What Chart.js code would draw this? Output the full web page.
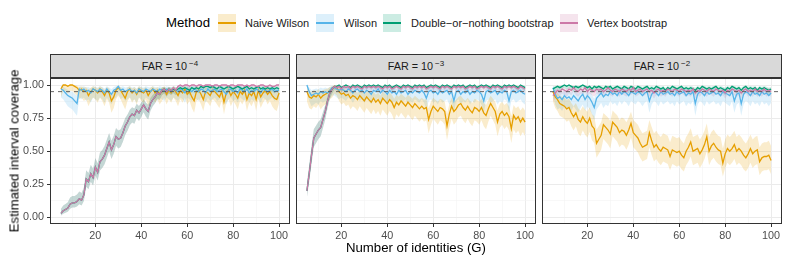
<!DOCTYPE html>
<html>
<head>
<meta charset="utf-8">
<script src="https://cdn.jsdelivr.net/npm/chart.js@4.4.1/dist/chart.umd.min.js"></script>
<style>
body { margin:0; background:#fff; width:789px; height:263px; position:relative; overflow:hidden; font-family:"Liberation Sans", Arial, sans-serif; }
.abs { position:absolute; white-space:nowrap; }
.strip { position:absolute; top:54px; height:24px; width:240px; box-sizing:border-box; border:1px solid #333; background:#d9d9d9; font-size:10.8px; color:#1a1a1a; text-align:center; line-height:23px; }
.strip sup { font-size:8px; vertical-align:0; position:relative; top:-4px; margin-left:2px; }
canvas { position:absolute; }
.key { position:absolute; top:14px; width:18px; height:18px; }
.key i { position:absolute; left:0; right:0; top:8.3px; height:1.4px; }
.lab { position:absolute; top:17px; font-size:11px; line-height:12px; color:#1a1a1a; white-space:nowrap; }
</style>
</head>
<body>

<div class="abs" style="left:166px;top:15px;font-size:13.2px;line-height:16px;">Method</div>
<div id="legend"></div>

<div class="strip" style="left:50px">FAR = 10<sup>−4</sup></div>
<div class="strip" style="left:296px">FAR = 10<sup>−3</sup></div>
<div class="strip" style="left:542px">FAR = 10<sup>−2</sup></div>

<canvas id="p1" width="294" height="176" style="left:0px;top:70px;width:294px;height:176px"></canvas>
<canvas id="p2" width="248" height="176" style="left:292px;top:70px;width:248px;height:176px"></canvas>
<canvas id="p3" width="248" height="176" style="left:538px;top:70px;width:248px;height:176px"></canvas>

<div class="abs" style="left:14px;top:151px;transform:translate(-50%,-50%) rotate(-90deg);font-size:13.2px;">Estimated interval coverage</div>
<div class="abs" style="left:416px;top:247px;transform:translate(-50%,-50%);font-size:13.2px;">Number of identities (G)</div>

<script>
// number of identities
const G = [5,6,7,8,9,10,11,12,13,14,15,16,17,18,19,20,21,22,23,24,25,26,27,28,29,30,31,32,33,34,
  35,36,37,38,39,40,41,42,43,44,45,46,47,48,49,50,51,52,53,54,55,56,57,58,59,60,61,62,63,64,
  65,66,67,68,69,70,71,72,73,74,75,76,77,78,79,80,81,82,83,84,85,86,87,88,89,90,91,92,93,94,
  95,96,97,98,99,100];

const methods = ['Naive Wilson', 'Wilson', 'Double−or−nothing bootstrap', 'Vertex bootstrap'];
const colors = ['#E69F00', '#56B4E9', '#009E73', '#CC79A7'];
const runs = [80, 80, 200, 200]; // simulation runs behind each coverage estimate
const target = 0.95;

// FAR = 1e-4
const naive1 = [0.97,1.00,1.00,0.99,1.00,1.00,0.99,0.98,0.96,0.97,
  0.95,0.96,0.92,0.95,0.97,0.96,0.94,0.97,0.95,0.92,
  0.96,0.94,0.88,0.91,0.96,0.98,0.96,0.93,0.90,0.95,
  0.97,0.94,0.96,0.93,0.97,0.95,0.94,0.96,0.92,0.95,
  0.97,0.94,0.96,0.93,0.95,0.97,0.93,0.96,0.94,0.97,
  0.95,0.92,0.96,0.94,0.97,0.93,0.95,0.91,0.88,0.95,
  0.96,0.93,0.89,0.95,0.94,0.92,0.96,0.95,0.93,0.91,
  0.95,0.87,0.94,0.96,0.92,0.95,0.93,0.90,0.95,0.93,
  0.96,0.89,0.94,0.92,0.95,0.89,0.96,0.91,0.94,0.96,
  0.93,0.95,0.92,0.90,0.89,0.94];
const wilson1 = [0.97,0.96,0.94,0.92,0.91,0.90,0.88,0.86,0.97,0.96,
  0.97,0.95,0.96,0.94,0.97,0.96,0.95,0.97,0.96,0.94,
  0.97,0.95,0.93,0.96,0.97,0.99,0.96,0.97,0.95,0.96,
  0.97,0.95,0.96,0.94,0.97,0.96,0.95,0.97,0.96,0.95,
  0.97,0.96,0.95,0.97,0.96,0.95,0.97,0.96,0.95,0.97,
  0.96,0.95,0.97,0.96,0.94,0.97,0.96,0.95,0.97,0.96,
  0.95,0.97,0.96,0.94,0.97,0.95,0.96,0.97,0.95,0.96,
  0.97,0.95,0.93,0.96,0.97,0.95,0.96,0.94,0.97,0.96,
  0.95,0.97,0.94,0.96,0.95,0.97,0.96,0.94,0.97,0.96,
  0.95,0.96,0.97,0.95,0.96,0.96];
const double1 = [0.03,0.05,0.06,0.07,0.10,0.11,0.11,0.12,0.14,0.13,
  0.17,0.29,0.27,0.33,0.30,0.38,0.34,0.42,0.44,0.47,
  0.52,0.57,0.51,0.55,0.61,0.59,0.60,0.64,0.69,0.72,
  0.76,0.78,0.77,0.81,0.79,0.82,0.85,0.82,0.80,0.86,
  0.89,0.91,0.94,0.93,0.96,0.97,0.95,0.97,0.96,0.97,
  0.96,0.97,0.98,0.97,0.98,0.97,0.96,0.98,0.97,0.98,
  0.97,0.99,0.98,0.99,0.99,0.98,0.99,0.98,0.97,0.99,
  0.98,0.97,0.98,0.99,0.98,0.97,0.98,0.99,0.98,0.97,
  0.98,0.99,0.97,0.98,0.97,0.98,0.99,0.97,0.98,0.97,
  0.98,0.97,0.98,0.97,0.98,0.97];
const vertex1 = [0.03,0.05,0.06,0.07,0.10,0.11,0.11,0.12,0.14,0.13,
  0.17,0.29,0.27,0.33,0.30,0.38,0.34,0.42,0.44,0.47,
  0.52,0.57,0.51,0.55,0.61,0.59,0.60,0.64,0.69,0.72,
  0.76,0.78,0.77,0.81,0.79,0.82,0.85,0.82,0.80,0.86,
  0.89,0.91,0.94,0.93,0.96,0.97,0.95,0.97,0.96,0.98,
  0.96,0.99,1.00,0.99,1.00,1.00,0.99,1.00,1.00,0.99,
  1.00,1.00,0.99,1.00,1.00,1.00,0.99,1.00,1.00,0.99,
  1.00,1.00,1.00,0.99,1.00,1.00,0.99,1.00,1.00,1.00,
  0.99,1.00,0.99,1.00,1.00,0.99,0.99,1.00,1.00,0.99,
  0.99,1.00,0.99,0.99,1.00,1.00];

// FAR = 1e-3
const naive2 = [0.95,0.91,0.90,0.92,0.91,0.93,0.90,0.92,0.93,0.94,
  0.96,0.97,0.99,0.98,0.95,0.93,0.94,0.92,0.93,0.90,
  0.92,0.91,0.89,0.92,0.90,0.88,0.91,0.89,0.87,0.90,
  0.87,0.89,0.86,0.90,0.88,0.86,0.89,0.87,0.83,0.87,
  0.85,0.88,0.86,0.84,0.87,0.85,0.83,0.86,0.84,0.82,
  0.84,0.82,0.83,0.74,0.80,0.84,0.82,0.80,0.83,0.82,
  0.80,0.69,0.78,0.84,0.80,0.82,0.85,0.86,0.83,0.81,
  0.84,0.81,0.79,0.83,0.82,0.80,0.83,0.79,0.77,0.82,
  0.86,0.83,0.80,0.72,0.78,0.80,0.77,0.79,0.76,0.67,
  0.77,0.74,0.76,0.72,0.75,0.72];
const wilson2 = [1.00,0.95,0.92,0.93,0.94,0.93,0.95,0.94,0.95,0.94,
  0.96,0.98,0.98,0.97,0.96,0.97,0.96,0.95,0.97,0.96,
  0.94,0.96,0.97,0.95,0.96,0.94,0.96,0.95,0.93,0.96,
  0.95,0.97,0.94,0.96,0.95,0.93,0.96,0.94,0.95,0.93,
  0.96,0.94,0.95,0.96,0.93,0.95,0.94,0.96,0.95,0.94,
  0.96,0.94,0.90,0.95,0.96,0.94,0.95,0.93,0.96,0.94,
  0.95,0.96,0.93,0.95,0.88,0.95,0.96,0.93,0.95,0.94,
  0.96,0.93,0.95,0.94,0.96,0.95,0.93,0.88,0.95,0.96,
  0.94,0.95,0.96,0.93,0.95,0.94,0.96,0.95,0.88,0.95,
  0.96,0.94,0.95,0.96,0.94,0.93];
const double2 = [0.20,0.33,0.47,0.60,0.63,0.66,0.68,0.74,0.80,0.88,
  0.94,0.97,0.99,0.99,1.00,0.98,0.99,1.00,0.99,0.98,
  1.00,0.99,1.00,0.99,0.98,1.00,0.99,1.00,0.99,1.00,
  0.99,1.00,0.99,0.98,1.00,0.99,1.00,0.98,0.99,1.00,
  0.99,0.98,1.00,0.99,1.00,0.99,0.98,1.00,0.99,1.00,
  0.99,1.00,0.98,0.99,1.00,0.99,1.00,0.99,0.98,1.00,
  0.99,1.00,0.99,0.98,1.00,0.99,1.00,0.99,1.00,0.98,
  0.99,1.00,0.99,1.00,0.98,0.99,1.00,0.99,1.00,0.99,
  0.98,1.00,0.99,1.00,0.99,0.98,1.00,0.99,1.00,0.99,
  1.00,0.99,0.98,1.00,0.99,0.98];
const vertex2 = [0.20,0.33,0.47,0.60,0.63,0.66,0.68,0.74,0.80,0.88,
  0.94,0.97,0.99,0.98,0.99,0.97,0.99,0.98,0.99,0.97,
  0.99,0.98,0.99,0.98,0.97,0.99,0.98,0.99,0.98,0.99,
  0.98,0.99,0.98,0.97,0.99,0.98,0.99,0.97,0.98,0.99,
  0.98,0.97,0.99,0.98,0.99,0.98,0.97,0.99,0.98,0.99,
  0.98,0.99,0.97,0.98,0.99,0.98,0.99,0.98,0.97,0.99,
  0.98,0.99,0.98,0.97,0.99,0.98,0.99,0.98,0.99,0.97,
  0.98,0.99,0.98,0.99,0.97,0.98,0.99,0.98,0.99,0.98,
  0.97,0.99,0.98,0.99,0.98,0.97,0.99,0.98,0.99,0.98,
  0.99,0.98,0.97,0.99,0.98,0.97];

// FAR = 1e-2
const naive3 = [0.95,0.91,0.89,0.86,0.85,0.84,0.82,0.83,0.79,0.76,
  0.79,0.74,0.72,0.76,0.73,0.71,0.75,0.69,0.67,0.56,
  0.59,0.62,0.70,0.68,0.66,0.63,0.72,0.70,0.68,0.64,
  0.66,0.65,0.62,0.66,0.71,0.64,0.62,0.60,0.56,0.53,
  0.54,0.55,0.64,0.58,0.53,0.55,0.52,0.50,0.53,0.52,
  0.51,0.46,0.51,0.50,0.49,0.50,0.47,0.45,0.50,0.53,
  0.57,0.50,0.51,0.52,0.48,0.51,0.55,0.61,0.50,0.54,
  0.56,0.53,0.51,0.50,0.41,0.48,0.52,0.50,0.52,0.55,
  0.50,0.52,0.50,0.47,0.45,0.48,0.52,0.48,0.50,0.51,
  0.42,0.45,0.46,0.46,0.47,0.43];
const wilson3 = [0.98,0.93,0.90,0.91,0.89,0.92,0.90,0.91,0.89,0.92,
  0.90,0.88,0.91,0.93,0.89,0.92,0.90,0.87,0.83,0.90,
  0.92,0.94,0.91,0.93,0.92,0.95,0.93,0.94,0.92,0.95,
  0.93,0.95,0.94,0.92,0.95,0.94,0.93,0.95,0.94,0.92,
  0.94,0.95,0.88,0.93,0.95,0.94,0.92,0.95,0.93,0.94,
  0.95,0.93,0.94,0.92,0.95,0.93,0.94,0.95,0.92,0.94,
  0.93,0.95,0.86,0.93,0.95,0.94,0.92,0.95,0.93,0.94,
  0.95,0.93,0.94,0.92,0.95,0.94,0.93,0.92,0.95,0.88,
  0.93,0.94,0.86,0.93,0.95,0.94,0.92,0.95,0.93,0.94,
  0.92,0.95,0.93,0.94,0.92,0.94];
const double3 = [0.97,0.98,0.99,0.98,0.99,1.00,0.99,1.00,0.99,0.98,
  0.99,0.98,0.99,1.00,0.99,0.98,0.99,0.97,0.99,0.98,
  0.99,0.98,0.97,0.99,0.98,0.99,0.97,0.98,0.99,0.98,
  0.97,0.99,0.98,0.97,0.99,0.98,0.97,0.99,0.98,0.97,
  0.98,0.99,0.97,0.98,0.97,0.99,0.98,0.97,0.98,0.96,
  0.98,0.97,0.99,0.98,0.97,0.98,0.99,0.97,0.98,0.97,
  0.98,0.97,0.96,0.98,0.97,0.99,0.98,0.97,0.98,0.97,
  0.98,0.99,0.97,0.98,0.97,0.96,0.98,0.97,0.99,0.98,
  0.97,0.98,0.96,0.98,0.99,0.97,0.98,0.97,0.98,0.96,
  0.98,0.97,0.98,0.97,0.96,0.97];
const vertex3 = [0.92,0.94,0.96,0.95,0.97,0.96,0.95,0.97,0.96,0.98,
  0.96,0.95,0.97,0.96,0.98,0.95,0.97,0.96,0.95,0.97,
  0.96,0.97,0.95,0.96,0.98,0.96,0.95,0.97,0.96,0.95,
  0.97,0.96,0.95,0.97,0.96,0.98,0.95,0.96,0.97,0.95,
  0.96,0.97,0.95,0.96,0.94,0.96,0.97,0.95,0.96,0.95,
  0.97,0.96,0.95,0.97,0.96,0.95,0.97,0.96,0.95,0.96,
  0.95,0.97,0.94,0.96,0.95,0.97,0.96,0.95,0.97,0.96,
  0.95,0.97,0.96,0.95,0.96,0.94,0.96,0.95,0.97,0.96,
  0.95,0.96,0.94,0.96,0.97,0.95,0.96,0.95,0.97,0.95,
  0.96,0.95,0.97,0.95,0.96,0.95];

const xMajor = [20, 40, 60, 80, 100];
const xTicks = [10, 20, 30, 40, 50, 60, 70, 80, 90, 100];
const yMajor = [0, 0.25, 0.5, 0.75, 1];
const yTicks = [0, 0.125, 0.25, 0.375, 0.5, 0.625, 0.75, 0.875, 1];

Chart.defaults.font.family = '"Liberation Sans", Arial, sans-serif';

function rgba(hex, a) {
  const n = parseInt(hex.slice(1), 16);
  return 'rgba(' + (n >> 16) + ',' + ((n >> 8) & 255) + ',' + (n & 255) + ',' + a + ')';
}

// wilson score interval for a coverage estimate over n runs
function wilsonCI(p, n) {
  const z2 = 1.96 * 1.96;
  const c = (p + z2 / (2 * n)) / (1 + z2 / n);
  const h = 1.96 * Math.sqrt(p * (1 - p) / n + z2 / (4 * n * n)) / (1 + z2 / n);
  return [c - h, c + h];
}

// legend
const keyLeft = [218, 316, 383, 560];
const labLeft = [245, 344, 411, 587];
let lg = '';
methods.forEach((m, k) => {
  lg += '<div class="key" style="left:' + keyLeft[k] + 'px;background:' + rgba(colors[k], 0.2) + '"><i style="background:' + colors[k] + '"></i></div>';
  lg += '<div class="lab" style="left:' + labLeft[k] + 'px">' + m + '</div>';
});
document.getElementById('legend').innerHTML = lg;

const frame = {
  id: 'frame',
  afterDraw(chart) {
    const a = chart.chartArea, c = chart.ctx;
    c.save();
    c.strokeStyle = '#333';
    c.lineWidth = 1;
    c.strokeRect(Math.round(a.left) + 0.5, Math.round(a.top) + 0.5, Math.round(a.width) - 1, Math.round(a.height) - 1);
    c.restore();
  }
};

function makePanel(id, series, showY) {
  const ds = [];
  series.forEach((vals, k) => {
    const ci = vals.map(p => wilsonCI(p, runs[k]));
    ds.push({ data: G.map((g, i) => ({ x: g, y: ci[i][0] })), borderColor: 'rgba(0,0,0,0)', borderWidth: 0, pointRadius: 0, fill: false, order: 20 });
    ds.push({ data: G.map((g, i) => ({ x: g, y: ci[i][1] })), borderColor: 'rgba(0,0,0,0)', borderWidth: 0, pointRadius: 0, fill: '-1', backgroundColor: rgba(colors[k], 0.2), order: 20 });
  });
  series.forEach((vals, k) => {
    ds.push({ data: G.map((g, i) => ({ x: g, y: vals[i] })), borderColor: colors[k], borderWidth: 1.3, pointRadius: 0, fill: false, order: 4 - k });
  });
  ds.push({ data: [{ x: 0.25, y: target }, { x: 104.75, y: target }], borderColor: '#555', borderWidth: 0.9, borderDash: [4, 4], pointRadius: 0, fill: false, order: 0 });

  new Chart(document.getElementById(id), {
    type: 'line',
    data: { datasets: ds },
    options: {
      responsive: false,
      animation: false,
      devicePixelRatio: 1,
      events: [],
      layout: { padding: { left: showY ? 0 : 4, right: 4, top: 8, bottom: 0 } },
      plugins: { legend: { display: false }, tooltip: { enabled: false } },
      elements: { line: { tension: 0 } },
      scales: {
        x: {
          type: 'linear', min: 0.25, max: 104.75,
          afterBuildTicks: s => { s.ticks = xTicks.map(v => ({ value: v })); },
          afterFit: s => { s.height = 22; s.paddingLeft = 0; s.paddingRight = 0; },
          border: { display: false },
          grid: {
            color: c => xMajor.includes(c.tick.value) ? '#ebebeb' : '#f3f3f3',
            lineWidth: c => xMajor.includes(c.tick.value) ? 1 : 0.6,
            tickColor: c => xMajor.includes(c.tick.value) ? '#333' : 'rgba(0,0,0,0)',
            tickLength: 3, tickWidth: 1
          },
          ticks: {
            autoSkip: false, maxRotation: 0, padding: 3, color: '#4d4d4d', font: { size: 10.8 },
            callback: v => xMajor.includes(v) ? String(v) : ''
          }
        },
        y: {
          type: 'linear', min: -0.05, max: 1.053,
          afterBuildTicks: s => { s.ticks = yTicks.map(v => ({ value: v })); },
          afterFit: s => { s.width = showY ? 50 : 0; s.paddingTop = 0; s.paddingBottom = 0; },
          border: { display: false },
          grid: {
            color: c => yMajor.includes(c.tick.value) ? '#ebebeb' : '#f3f3f3',
            lineWidth: c => yMajor.includes(c.tick.value) ? 1 : 0.6,
            tickColor: c => yMajor.includes(c.tick.value) ? '#333' : 'rgba(0,0,0,0)',
            drawTicks: showY, tickLength: 3, tickWidth: 1
          },
          ticks: {
            display: showY, autoSkip: false, padding: 3, color: '#4d4d4d', font: { size: 10.8 },
            callback: v => yMajor.includes(v) ? v.toFixed(2) : ''
          }
        }
      }
    },
    plugins: [frame]
  });
}

makePanel('p1', [naive1, wilson1, double1, vertex1], true);
makePanel('p2', [naive2, wilson2, double2, vertex2], false);
makePanel('p3', [naive3, wilson3, double3, vertex3], false);
</script>
</body>
</html>
